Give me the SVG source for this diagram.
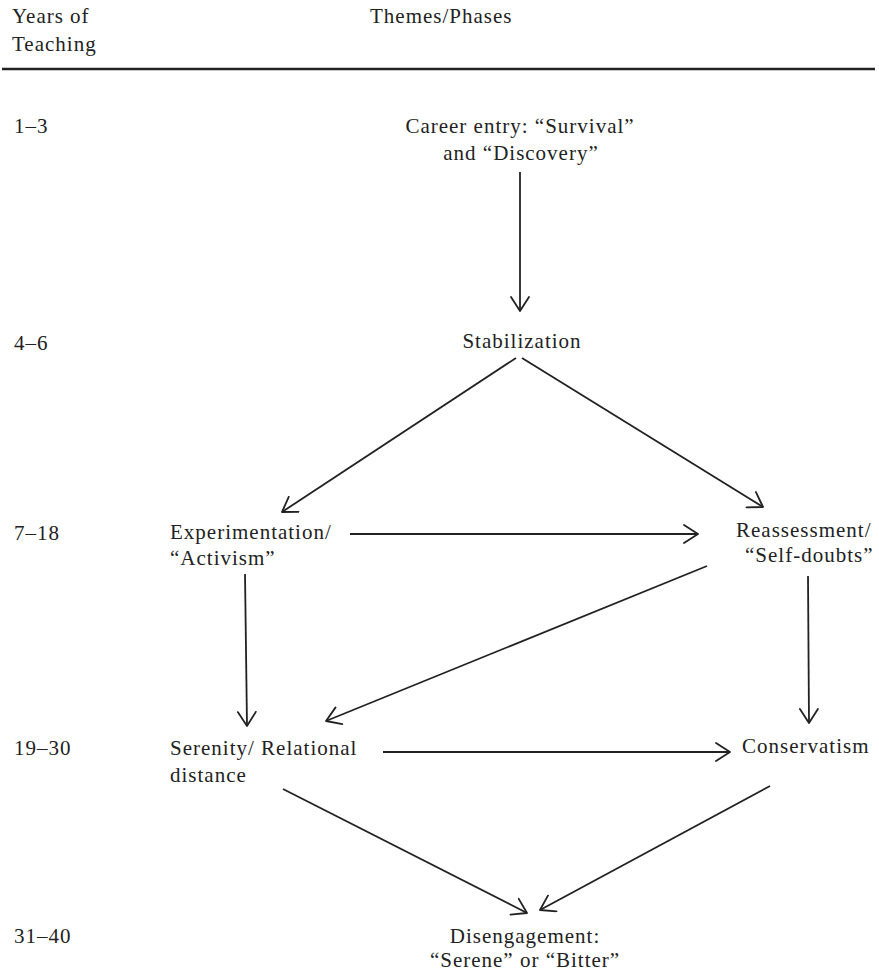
<svg xmlns="http://www.w3.org/2000/svg" width="879" height="974" viewBox="0 0 879 974">
<style>
.t text{font-size:21px;fill:#222;letter-spacing:1px}
.c{text-anchor:middle}
.conn line{stroke:#222;stroke-width:1.8;fill:none;marker-end:url(#ah)}
</style>
<defs>
<marker id="ah" viewBox="0 0 16 20" refX="15" refY="10" markerWidth="16" markerHeight="20" markerUnits="userSpaceOnUse" orient="auto">
<path d="M1,1 L15,10 L1,19" fill="none" stroke="#222" stroke-width="1.8" stroke-linecap="round" stroke-linejoin="round"/>
</marker>
</defs>
<rect width="879" height="974" fill="#fff"/>
<g class="t" font-family="Liberation Serif, DejaVu Serif, serif">
<g id="header">
<text x="12" y="23">Years of</text>
<text x="12" y="51">Teaching</text>
<text x="370" y="23">Themes/Phases</text>
<line x1="2" y1="69" x2="875" y2="69" stroke="#222" stroke-width="2.5"/>
</g>
<g id="years">
<text x="14" y="133">1–3</text>
<text x="14" y="350">4–6</text>
<text x="14" y="540">7–18</text>
<text x="14" y="755">19–30</text>
<text x="14" y="943">31–40</text>
</g>
<g id="career"><text class="c" x="520" y="133">Career entry: “Survival”</text><text class="c" x="521" y="160">and “Discovery”</text></g>
<g id="stabilization"><text class="c" x="522" y="348">Stabilization</text></g>
<g id="experimentation"><text x="170" y="539">Experimentation/</text><text x="170" y="565">“Activism”</text></g>
<g id="reassessment"><text x="736" y="537">Reassessment/</text><text x="745" y="562">“Self-doubts”</text></g>
<g id="serenity"><text x="170" y="755">Serenity/ Relational</text><text x="170" y="782">distance</text></g>
<g id="conservatism"><text x="742" y="753">Conservatism</text></g>
<g id="disengagement"><text class="c" x="525" y="943">Disengagement:</text><text class="c" x="525" y="967">“Serene” or “Bitter”</text></g>
</g>
<g id="connectors" class="conn">
<line x1="520" y1="172" x2="520" y2="311"/>
<line x1="516" y1="358" x2="282" y2="512"/>
<line x1="522" y1="358" x2="763" y2="507"/>
<line x1="350" y1="534" x2="698" y2="534"/>
<line x1="245" y1="574" x2="247" y2="726"/>
<line x1="707" y1="566" x2="326" y2="721"/>
<line x1="808" y1="576" x2="809" y2="723"/>
<line x1="383" y1="752" x2="730" y2="752"/>
<line x1="283" y1="789" x2="527" y2="913"/>
<line x1="770" y1="786" x2="540" y2="910"/>
</g>
</svg>
